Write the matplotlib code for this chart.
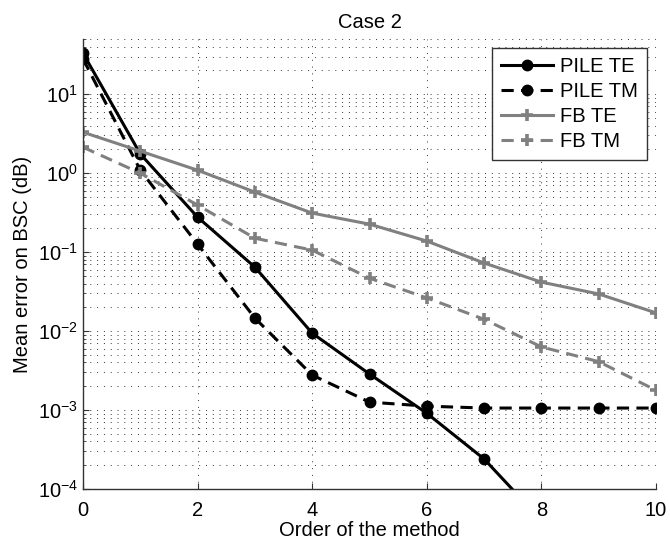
import math

import matplotlib
matplotlib.use("Agg")
import matplotlib.pyplot as plt
from matplotlib.ticker import FixedLocator, LogLocator, FuncFormatter, NullFormatter

plt.rcParams["font.family"] = ["Liberation Sans", "DejaVu Sans"]
plt.rcParams["mathtext.fontset"] = "custom"
plt.rcParams["mathtext.rm"] = "Liberation Sans"
plt.rcParams["mathtext.it"] = "Liberation Sans:italic"

# --- data ---
order = [0, 1, 2, 3, 4, 5, 6, 7, 8, 9, 10]
pile_te = [33.0, 1.75, 0.277, 0.0645, 0.0094, 0.00286, 0.00091, 0.00024, 4e-5, 8e-6, 1.6e-6]
pile_tm = [28.0, 1.09, 0.126, 0.0146, 0.00277, 0.00126, 0.00112, 0.00106, 0.00106, 0.00106, 0.00106]
fb_te = [3.3, 1.9, 1.09, 0.575, 0.312, 0.226, 0.138, 0.0727, 0.0417, 0.0295, 0.017]
fb_tm = [2.13, 1.0, 0.394, 0.150, 0.106, 0.0467, 0.0263, 0.0141, 0.0063, 0.0041, 0.00178]

x_ticks = [0, 2, 4, 6, 8, 10]
y_decades = [1e-4, 1e-3, 1e-2, 1e-1, 1e0, 1e1]

GRAY = "#808080"
DASH = (0, (4, 2.4))
FS = 14.5

fig = plt.figure(figsize=(6.7, 5.44), dpi=100)
ax = fig.add_axes([83 / 670, 55 / 544, 573 / 670, 450 / 544])

ax.plot(order, pile_te, color="black", lw=2.2, marker="o", ms=7.5, label="PILE TE")
ax.plot(order, pile_tm, color="black", lw=2.2, ls=DASH, marker="o", ms=7.5, label="PILE TM")
ax.plot(order, fb_te, color=GRAY, lw=2.2, marker="+", ms=9, mew=2.6, label="FB TE")
ax.plot(order, fb_tm, color=GRAY, lw=2.2, ls=DASH, marker="+", ms=9, mew=2.6, label="FB TM")

ax.set_yscale("log")
ax.set_xlim(0, 10)
ax.set_ylim(1e-4, 50)

ax.xaxis.set_major_locator(FixedLocator(x_ticks))
ax.yaxis.set_major_locator(FixedLocator(y_decades))
ax.yaxis.set_minor_locator(LogLocator(base=10, subs=range(2, 10), numticks=20))
ax.yaxis.set_minor_formatter(NullFormatter())
ax.yaxis.set_major_formatter(
    FuncFormatter(lambda v, p: r"$\mathregular{10^{%d}}$" % round(math.log10(v))))

ax.tick_params(which="both", direction="in", labelsize=FS, color="#333333")
ax.tick_params(which="major", length=4, width=0.8)
ax.tick_params(which="minor", length=2.5, width=0.6)
ax.tick_params(axis="x", pad=9)

grid_style = dict(color="black", lw=0.7, ls=(0, (1, 6)), alpha=0.8)
ax.grid(True, which="major", axis="both", **grid_style)
ax.grid(True, which="minor", axis="y", **grid_style)
ax.set_axisbelow(True)

for side in ("top", "right"):
    ax.spines[side].set_visible(False)
for side in ("left", "bottom"):
    ax.spines[side].set_color("#333333")
    ax.spines[side].set_linewidth(1.0)

ax.set_title("Case 2", fontsize=FS, pad=8)
ax.set_xlabel("Order of the method", fontsize=FS, labelpad=0)
ax.set_ylabel("Mean error on BSC (dB)", fontsize=FS, labelpad=4)

leg = ax.legend(loc="upper right", fontsize=FS, fancybox=False, framealpha=1,
                edgecolor="#333333", handlelength=2.6, handletextpad=0.35,
                borderpad=0.45, labelspacing=0.3, borderaxespad=0.45, numpoints=1)
leg.get_frame().set_linewidth(1.0)

fig.savefig("out.png", dpi=100)
